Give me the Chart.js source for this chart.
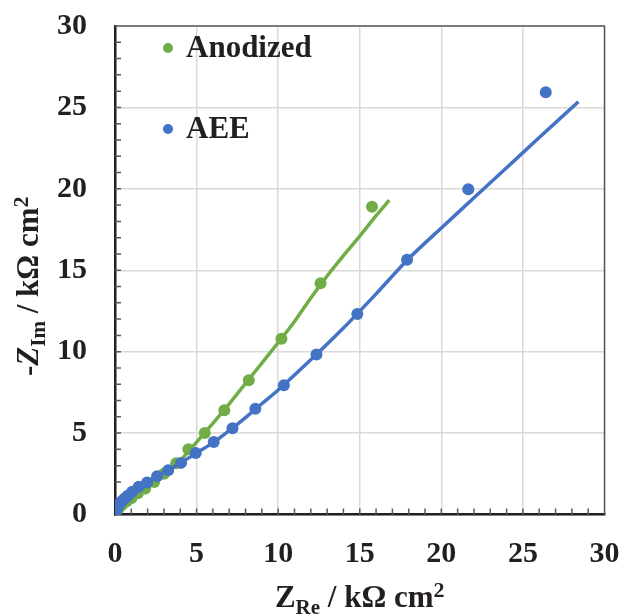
<!DOCTYPE html>
<html>
<head>
<meta charset="utf-8">
<script src="https://cdn.jsdelivr.net/npm/chart.js@4"></script>
<style>
  body { margin: 0; background: #fff; }
  #wrap { width: 622px; height: 615px; }
</style>
</head>
<body>
<div id="wrap"><canvas id="nyquist" width="622" height="615"></canvas></div>
<script>
// Nyquist data, kΩ cm2
const anodizedRe = [0.03, 0.1, 0.25, 0.45, 0.7, 1.0, 1.4, 1.85, 2.4, 3.0, 3.75, 4.5, 5.5, 6.7, 8.2, 10.2, 12.6, 15.75];
const anodizedIm = [0.05, 0.2, 0.4, 0.6, 0.8, 1.0, 1.3, 1.6, 2.0, 2.5, 3.15, 4.0, 5.0, 6.4, 8.25, 10.8, 14.2, 18.9];

const aeeRe = [0.03, 0.08, 0.18, 0.3, 0.45, 0.6, 0.78, 1.05, 1.45, 1.97, 2.58, 3.26, 4.05, 4.95, 6.05, 7.2, 8.6, 10.35, 12.35, 14.85, 17.9, 21.65, 26.4];
const aeeIm = [0.08, 0.25, 0.48, 0.68, 0.85, 1.0, 1.15, 1.4, 1.7, 1.97, 2.35, 2.72, 3.17, 3.78, 4.45, 5.3, 6.5, 7.94, 9.82, 12.32, 15.64, 19.97, 25.93];

// fitted curves
const anodizedFitRe = [0, 0.2, 0.5, 1, 1.5, 2, 3, 4, 5, 6, 7, 8, 9, 10, 11, 12, 13, 14, 15, 16, 16.8];
const anodizedFitIm = [0, 0.25, 0.55, 0.95, 1.3, 1.65, 2.4, 3.3, 4.45, 5.6, 6.8, 8.05, 9.3, 10.55, 11.85, 13.3, 14.65, 15.9, 17.1, 18.35, 19.3];

const aeeFitRe = [0, 0.1, 0.3, 0.6, 1, 1.5, 2, 3, 4, 5, 6, 7, 8, 9, 10, 12, 14, 16, 18, 20, 22, 24, 26, 28.4];
const aeeFitIm = [0, 0.3, 0.65, 1.0, 1.38, 1.72, 2.0, 2.6, 3.15, 3.78, 4.4, 5.15, 5.95, 6.8, 7.65, 9.5, 11.45, 13.55, 15.72, 17.6, 19.45, 21.3, 23.15, 25.35];

const axisMin = 0;
const axisMax = 30;
const axisStep = 5;

const GREEN = '#70AD47';
const BLUE = '#4472C4';
const INK = '#231f20';
const SERIF = '"Liberation Serif", "Times New Roman", serif';

function toPoints(xs, ys) {
  return xs.map((x, i) => ({ x, y: ys[i] }));
}

// minor ticks every 1 unit, pointing into the plot, plus top/right frame
const framePlugin = {
  id: 'frame',
  beforeDatasetsDraw(chart) {
    const { ctx, chartArea: a, scales: { x, y } } = chart;
    ctx.save();
    ctx.strokeStyle = '#595959';
    ctx.lineWidth = 1.5;
    ctx.beginPath();
    for (let v = axisMin + 1; v < axisMax; v++) {
      const py = y.getPixelForValue(v);
      ctx.moveTo(a.left, py);
      ctx.lineTo(a.left + 6, py);
      const px = x.getPixelForValue(v);
      ctx.moveTo(px, a.bottom);
      ctx.lineTo(px, a.bottom - 6);
    }
    ctx.moveTo(a.left, a.top);
    ctx.lineTo(a.right, a.top);
    ctx.lineTo(a.right, a.bottom);
    ctx.stroke();
    ctx.restore();
  }
};

// draws a title made of runs: [text, size, baselineShift, italic]
function drawRuns(ctx, runs, cx, cy) {
  const widths = runs.map(r => {
    ctx.font = (r[3] ? 'italic ' : '') + 'bold ' + r[1] + 'px ' + SERIF;
    return ctx.measureText(r[0]).width;
  });
  let xPos = cx - widths.reduce((s, w) => s + w, 0) / 2;
  runs.forEach((r, i) => {
    ctx.font = (r[3] ? 'italic ' : '') + 'bold ' + r[1] + 'px ' + SERIF;
    ctx.fillText(r[0], xPos, cy + r[2]);
    xPos += widths[i];
  });
}

const titlePlugin = {
  id: 'axisTitles',
  afterDraw(chart) {
    const { ctx, chartArea: a } = chart;
    ctx.save();
    ctx.fillStyle = INK;
    ctx.textBaseline = 'alphabetic';
    ctx.textAlign = 'left';
    drawRuns(ctx, [
      ['Z', 31, 0, false],
      ['Re', 21, 7, false],
      [' / k\u03A9 cm', 31, 0, false],
      ['2', 22, -10, false]
    ], (a.left + a.right) / 2, 607);

    ctx.translate(38, (a.top + a.bottom) / 2 + 16);
    ctx.rotate(-Math.PI / 2);
    drawRuns(ctx, [
      ['-', 31, 0, false],
      ['Z', 31, 0, true],
      ['Im', 21, 7, false],
      [' / k\u03A9 cm', 31, 0, false],
      ['2', 22, -10, false]
    ], 0, 0);
    ctx.restore();
  }
};

// legend drawn inside the plot from the point datasets
const legendPlugin = {
  id: 'innerLegend',
  afterDraw(chart) {
    const { ctx } = chart;
    const items = chart.data.datasets.filter(d => d.inLegend)
      .sort((p, q) => p.legendRank - q.legendRank);
    ctx.save();
    ctx.font = 'bold 31px ' + SERIF;
    ctx.textBaseline = 'middle';
    items.forEach((d, i) => {
      const yy = 48 + i * 81;
      ctx.beginPath();
      ctx.fillStyle = d.backgroundColor;
      ctx.arc(168, yy, 5, 0, Math.PI * 2);
      ctx.fill();
      ctx.fillStyle = INK;
      ctx.fillText(d.label, 186, yy + 1);
    });
    ctx.restore();
  }
};

const tickFont = { family: SERIF, size: 30, weight: 'bold' };

new Chart(document.getElementById('nyquist'), {
  type: 'scatter',
  data: {
    datasets: [
      {
        label: 'AEE',
        inLegend: true,
        legendRank: 2,
        data: toPoints(aeeRe, aeeIm),
        showLine: false,
        pointRadius: 6,
        pointHoverRadius: 6,
        backgroundColor: BLUE,
        borderColor: BLUE,
        borderWidth: 0,
        order: 1
      },
      {
        label: 'AEE fit',
        inLegend: false,
        data: toPoints(aeeFitRe, aeeFitIm),
        showLine: true,
        pointRadius: 0,
        borderColor: BLUE,
        backgroundColor: BLUE,
        borderWidth: 3.5,
        tension: 0.2,
        order: 2
      },
      {
        label: 'Anodized',
        inLegend: true,
        legendRank: 1,
        data: toPoints(anodizedRe, anodizedIm),
        showLine: false,
        pointRadius: 6,
        pointHoverRadius: 6,
        backgroundColor: GREEN,
        borderColor: GREEN,
        borderWidth: 0,
        order: 3
      },
      {
        label: 'Anodized fit',
        inLegend: false,
        data: toPoints(anodizedFitRe, anodizedFitIm),
        showLine: true,
        pointRadius: 0,
        borderColor: GREEN,
        backgroundColor: GREEN,
        borderWidth: 3.5,
        tension: 0.2,
        order: 4
      }
    ]
  },
  options: {
    responsive: false,
    animation: false,
    devicePixelRatio: 1,
    layout: { padding: { top: 26, right: 17.5, left: 0, bottom: 0 } },
    plugins: {
      legend: { display: false },
      tooltip: { enabled: false }
    },
    scales: {
      x: {
        type: 'linear',
        min: axisMin,
        max: axisMax,
        afterFit: s => { s.height = 100.5; s.paddingLeft = 0; s.paddingRight = 0; },
        ticks: { stepSize: axisStep, font: tickFont, color: INK, padding: 22 },
        grid: { color: '#d9d9d9', lineWidth: 1.5, drawTicks: false },
        border: { color: INK, width: 2.5 }
      },
      y: {
        type: 'linear',
        min: axisMin,
        max: axisMax,
        afterFit: s => { s.width = 115; s.paddingTop = 0; s.paddingBottom = 0; },
        ticks: { stepSize: axisStep, font: tickFont, color: INK, padding: 28 },
        grid: { color: '#d9d9d9', lineWidth: 1.5, drawTicks: false },
        border: { color: INK, width: 2.5 }
      }
    }
  },
  plugins: [framePlugin, titlePlugin, legendPlugin]
});
</script>
</body>
</html>
